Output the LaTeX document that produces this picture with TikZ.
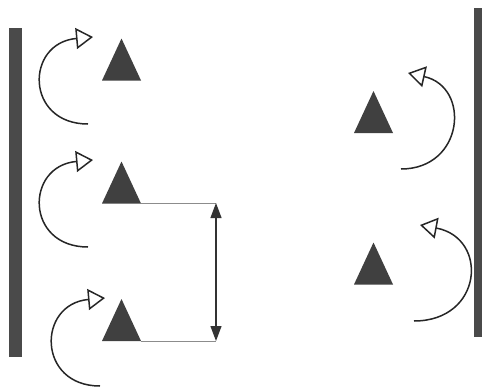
\documentclass[tikz,border=0pt]{standalone}
\usetikzlibrary{arrows.meta}
\definecolor{barcol}{HTML}{4A4A4A}
\definecolor{tricol}{HTML}{404040}
\begin{document}
\begin{tikzpicture}[x=1pt,y=-1pt,
  bar/.style={fill=barcol,draw=none},
  tripic/.pic={\fill[tricol] (-19.5,21) -- (0,-21) -- (19.5,21) -- cycle;},
  turn/.style={line width=1.5pt,draw=black!85,
    -{Triangle[open,length=17pt,width=21pt,line width=1.5pt]}},
  guide/.style={line width=1pt,draw=black!45},
  dimarrow/.style={line width=1.2pt,draw=black!80,
    {Triangle[length=15pt,width=11pt]}-{Triangle[length=15pt,width=11pt]}}]
\useasboundingbox (0,0) rectangle (482,388);
\fill[white] (0,0) rectangle (482,388);
% walls
\fill[bar] (9,28) rectangle (22,357);
\fill[bar] (474,8) rectangle (482,337);
% triangles
\pic at (121.5,59.5) {tripic};
\pic at (121.5,182.5) {tripic};
\pic at (121.5,320) {tripic};
\pic at (373.5,112) {tripic};
\pic at (373.5,263.5) {tripic};
% dimension
\coordinate (b2) at (141,203);
\coordinate (b3) at (141,341);
\coordinate (t) at (216,203);
\coordinate (u) at (216,341);
\draw[guide] (b2) -- (t);
\draw[guide] (b3) -- (u);
\draw[dimarrow] (t) -- (u);
% turning arrows
\coordinate (s1) at (88,124);  \coordinate (e1) at (93,37);
\coordinate (s2) at (88,247);  \coordinate (e2) at (93,160);
\coordinate (s3) at (100,386); \coordinate (e3) at (105,298);
\coordinate (s4) at (401,169); \coordinate (e4) at (408,73);
\coordinate (s5) at (414,321); \coordinate (e5) at (420,225);
\draw[turn] (s1) .. controls +(-63,0) and +(-68,6) .. (e1);
\draw[turn] (s2) .. controls +(-63,0) and +(-68,6) .. (e2);
\draw[turn] (s3) .. controls +(-63,0) and +(-68,6) .. (e3);
\draw[turn] (s4) .. controls +(63,0) and +(63,14) .. (e4);
\draw[turn] (s5) .. controls +(69,0) and +(69,13) .. (e5);
\end{tikzpicture}
\end{document}
